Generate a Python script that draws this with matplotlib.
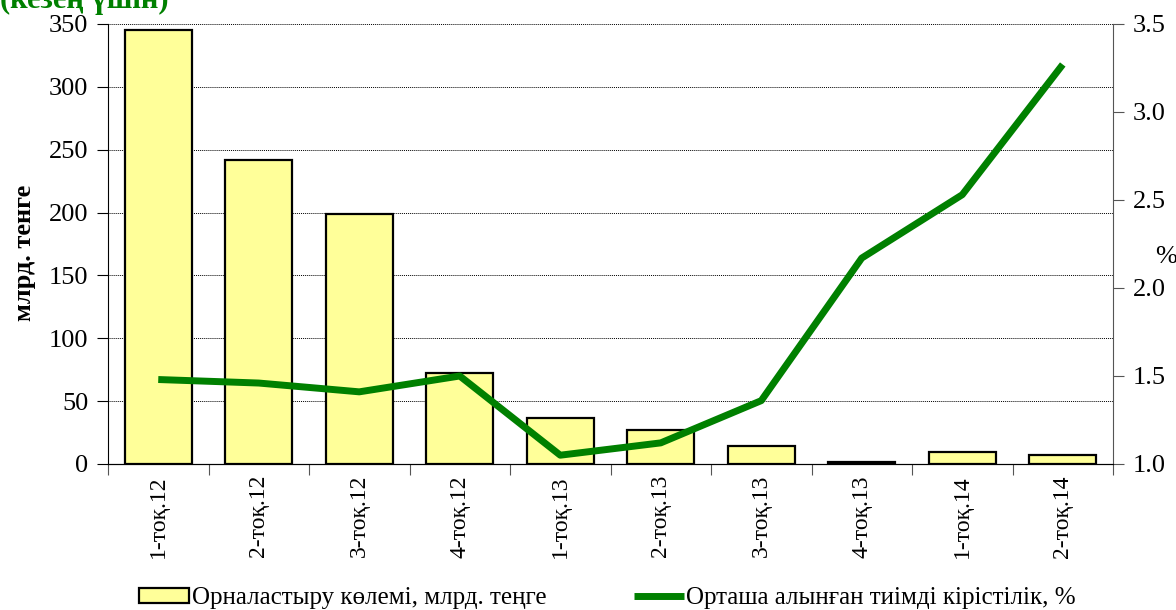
import matplotlib.pyplot as plt
import numpy as np

plt.rcParams['font.family'] = ['Liberation Serif', 'DejaVu Serif']

quarters = ['1-тоқ.12', '2-тоқ.12', '3-тоқ.12', '4-тоқ.12', '1-тоқ.13',
            '2-тоқ.13', '3-тоқ.13', '4-тоқ.13', '1-тоқ.14', '2-тоқ.14']
volume = [345, 242, 199, 72, 36.5, 27, 14.5, 1.5, 9.5, 7]
yield_pct = [1.48, 1.46, 1.41, 1.50, 1.05, 1.12, 1.36, 2.17, 2.53, 3.27]

fig = plt.figure(figsize=(11.76, 6.10), dpi=100)
ax = fig.add_axes([108 / 1176, 1 - 464 / 610, 1005 / 1176, 440 / 610])
ax2 = ax.twinx()

x = np.arange(len(quarters))
bars = ax.bar(x, volume, width=0.67, color='#FFFF99', edgecolor='black',
              linewidth=1.6, zorder=2, label='Орналастыру көлемі, млрд. теңге')
line, = ax2.plot(x, yield_pct, color='#008000', linewidth=5,
                 solid_capstyle='butt', label='Орташа алынған тиімді кірістілік, %')

ax.set_xlim(-0.5, len(quarters) - 0.5)
ax.set_ylim(0, 350)
ax.set_yticks(np.arange(0, 351, 50))
ax.yaxis.grid(True, linestyle=(0, (1, 1)), color='black', linewidth=0.7)
ax.set_axisbelow(True)
# category boundaries get the tick marks, centres get the labels
ax.set_xticks(np.arange(-0.5, len(quarters), 1), minor=False)
ax.set_xticklabels([])
ax.set_xticks(x, minor=True)
ax.set_xticklabels(quarters, minor=True, rotation=90, fontsize=17)
ax.tick_params(axis='x', which='major', length=8, direction='out', color='#555555')
ax.tick_params(axis='x', which='minor', length=0, pad=8)
ax.tick_params(axis='y', length=8, direction='out', labelsize=19, pad=6)
ax.set_ylabel('млрд. тенге', fontsize=19, fontweight='bold')
ax.yaxis.set_label_coords(-0.072, 0.48)

ax2.set_ylim(1.0, 3.5)
ax2.set_yticks(np.arange(1.0, 3.51, 0.5))
ax2.set_yticklabels(['%.1f' % v for v in np.arange(1.0, 3.51, 0.5)])
ax2.tick_params(axis='y', length=8, direction='out', labelsize=19, pad=6, color='#555555')
fig.text(1166 / 1176, 1 - 257 / 610, '%', fontsize=19, ha='center', va='center')

for a in (ax, ax2):
    a.spines['top'].set_visible(False)
ax.spines['right'].set_visible(False)
ax2.spines['left'].set_visible(False)
ax2.spines['right'].set_color('#555555')

fig.legend(handles=[bars, line], loc='lower left', bbox_to_anchor=(139 / 1176, 1 / 610),
           ncol=2, frameon=False, fontsize=18, handlelength=2.0, handleheight=0.55,
           handletextpad=0.1, columnspacing=3.5, borderpad=0, borderaxespad=0)

fig.text(0.0, 1 - 8 / 610, '(кезең үшін)', color='#008000', fontsize=22,
         fontweight='bold', ha='left', va='baseline')

fig.savefig('out.png', dpi=100)
